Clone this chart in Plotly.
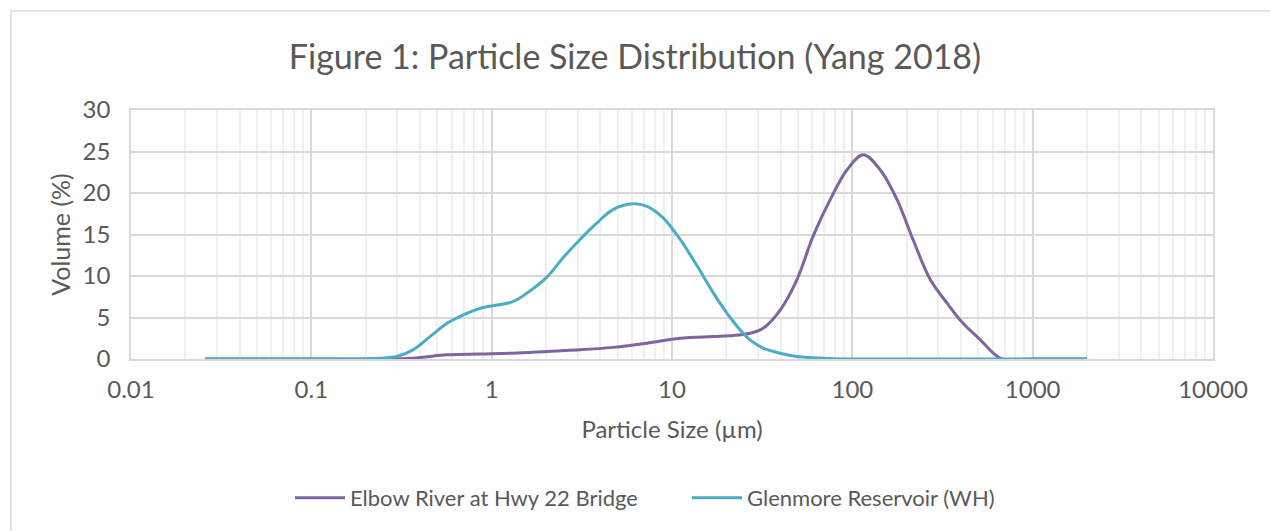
import plotly.graph_objects as go

# ---- data ----
elbow_x = [0.0257, 0.1, 0.2, 0.24, 0.366, 0.566, 0.863, 1.31, 2.03, 3.09, 4.71, 7.27, 11.1, 16.9,
           21.0, 27.1, 32.0, 39.8, 49.4, 60.6, 75.4, 93.5, 115, 142.6, 177, 217, 270, 336, 411,
           513, 605, 676, 1000, 2000]
elbow_y = [0, 0, 0, 0, 0.1, 0.5, 0.6, 0.7, 0.9, 1.1, 1.4, 1.9, 2.5, 2.7,
           2.8, 3.1, 3.7, 5.9, 9.6, 14.8, 19.2, 22.8, 24.6, 22.8, 19.2, 14.4, 9.6, 6.7, 4.3,
           2.3, 0.7, 0, 0, 0]

glen_x = [0.0257, 0.1, 0.2, 0.24, 0.298, 0.366, 0.455, 0.566, 0.693, 0.863, 1.07, 1.31, 1.63,
          2.03, 2.49, 3.09, 3.84, 4.71, 6.08, 7.27, 8.93, 11.1, 13.8, 16.9, 21.0, 23.9, 27.1,
          32.0, 39.8, 49.4, 75.4, 100, 300, 1000, 2000]
glen_y = [0, 0, 0, 0.1, 0.3, 1.1, 2.7, 4.3, 5.3, 6.1, 6.5, 6.9, 8.2,
          9.9, 12.2, 14.4, 16.4, 18.0, 18.7, 18.4, 17.0, 14.4, 11.2, 8.0, 5.0, 3.5, 2.3,
          1.3, 0.7, 0.3, 0.05, 0, 0, 0, 0]

x_tickvals = [0.01, 0.1, 1, 10, 100, 1000, 10000]
x_ticktext = ["0.01", "0.1", "1", "10", "100", "1000", "10000"]
y_tickvals = [0, 5, 10, 15, 20, 25, 30]

series_names = ["Elbow River at Hwy 22 Bridge", "Glenmore Reservoir (WH)"]

# ---- style ----
FONT = "Lato"
TXT = "#595959"
W, H = 1270, 531
L, R, T, B = 131, 1213, 110, 359

fig = go.Figure()
fig.add_trace(go.Scatter(x=elbow_x, y=elbow_y, mode="lines", name=series_names[0], legend="legend",
                         line=dict(color="#8064A2", width=3, shape="spline", smoothing=1.0)))
fig.add_trace(go.Scatter(x=glen_x, y=glen_y, mode="lines", name=series_names[1], legend="legend2",
                         line=dict(color="#4BACC6", width=3, shape="spline", smoothing=1.0)))

def px_x(p):
    return (p - L) / (R - L)

def px_y(p):
    return (B - p) / (B - T)

# outer chart border
fig.add_shape(type="rect", xref="paper", yref="paper",
              x0=px_x(11), x1=px_x(1290), y0=px_y(560), y1=px_y(11),
              line=dict(color="#D9D9D9", width=1.5), layer="below")

leg_common = dict(orientation="h", xanchor="left", xref="container",
                  y=1 - 498 / H, yref="container", yanchor="middle",
                  font=dict(size=22, color=TXT, family=FONT), itemwidth=50,
                  bgcolor="rgba(0,0,0,0)")

fig.update_layout(
    width=W, height=H,
    margin=dict(l=L, r=W - R, t=T, b=H - B),
    paper_bgcolor="white", plot_bgcolor="white",
    font=dict(family=FONT, color=TXT, size=24),
    title=dict(text="Figure 1: Particle Size Distribution (Yang 2018)",
               x=0.5, xref="container", y=1 - 57 / H, yref="container",
               xanchor="center", yanchor="middle",
               font=dict(size=34, color=TXT, family=FONT)),
    showlegend=True,
    legend=dict(x=290 / W, **leg_common),
    legend2=dict(x=687 / W, **leg_common),
)

fig.update_xaxes(type="log", range=[-2, 4], tickvals=x_tickvals, ticktext=x_ticktext,
                 showgrid=True, gridcolor="#D9D9D9", gridwidth=1.5,
                 minor=dict(showgrid=True, gridcolor="#F0F0F0", gridwidth=1.5, dtick="D1"),
                 showline=True, linecolor="#D9D9D9", linewidth=1.5, mirror=True,
                 ticks="", zeroline=False, ticklabelstandoff=8,
                 tickfont=dict(size=24, color=TXT),
                 title=dict(text="Particle Size (µm)", font=dict(size=24, color=TXT), standoff=20))
fig.update_yaxes(range=[0, 30], tickvals=y_tickvals,
                 showgrid=True, gridcolor="#D9D9D9", gridwidth=1.5,
                 showline=True, linecolor="#D9D9D9", linewidth=1.5, mirror=True,
                 ticks="", zeroline=False, ticklabelstandoff=14,
                 tickfont=dict(size=24, color=TXT),
                 title=dict(text="Volume (%)", font=dict(size=25, color=TXT), standoff=5))

fig.write_html("out.html")
